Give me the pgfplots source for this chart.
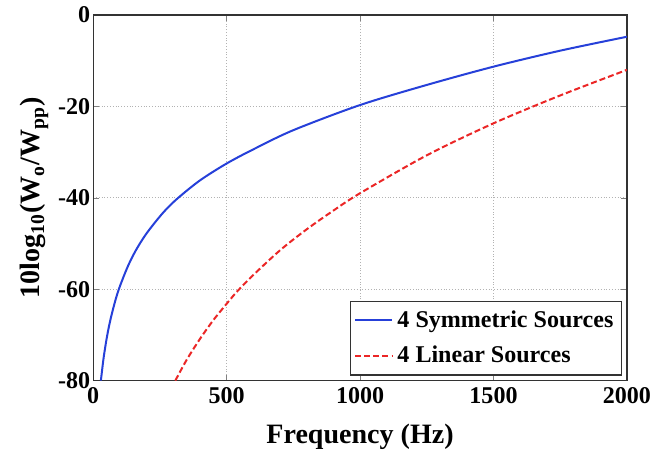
\documentclass[border=0pt]{standalone}
\usepackage{fontspec}
\setmainfont{Liberation Serif}
\usepackage{pgfplots}
\pgfplotsset{compat=1.18}
\definecolor{cblue}{rgb}{0.15,0.25,0.85}
\definecolor{cred}{rgb}{0.92,0.15,0.15}
\begin{document}
\begin{tikzpicture}
\begin{axis}[
  scale only axis,
  width=266.5pt, height=182.5pt,
  xmin=0, xmax=2000, ymin=-80, ymax=0,
  xtick={0,500,1000,1500,2000},
  ytick={-80,-60,-40,-20,0},
  tick align=inside,
  tick pos=both,
  major tick length=3pt,
  grid=major,
  major grid style={gray!60, densely dotted, line width=0.4pt},
  axis line style={black!80, line width=0.6pt},
  /pgf/number format/assume math mode=true,
  scaled x ticks=false,
  xticklabel style={/pgf/number format/1000 sep={}},
  yticklabel style={xshift=2pt},
  tick label style={font=\bfseries\fontsize{12}{13}\selectfont},
  xlabel={Frequency (Hz)},
  ylabel={10log\textsubscript{10}(W\textsubscript{o}/W\textsubscript{pp})},
  label style={font=\bfseries\fontsize{14}{15}\selectfont},
  xlabel style={yshift=-3pt},
  ylabel style={yshift=-2pt},
  legend style={font=\bfseries\fontsize{12}{13}\selectfont, draw=black!80, line width=0.6pt, inner xsep=2pt, inner ysep=2.5pt, row sep=4pt, at={(axis description cs:1,0)}, anchor=south east, xshift=-2.5pt, yshift=2.5pt},
  legend image code/.code={\draw[#1] (0cm,0cm) -- (0.65cm,0cm);},
  legend cell align=left,
]
\addplot[cblue, line width=1pt, smooth] coordinates {
(29,-80) (35,-77) (40,-74.7) (50,-71) (60,-67.95) (70,-65.4) (85,-62.1) (100,-59.4) (130,-55) (160,-51.5) (200,-47.8) (260,-43.4) (313,-40.3) (400,-36.2) (500,-32.5) (600,-29.4) (750,-25.2) (1000,-19.7) (1250,-15.3) (1500,-11.3) (1750,-7.8) (2000,-4.75)
};
\addlegendentry{4 Symmetric Sources}
\addplot[cred, line width=1pt, dash pattern=on 3pt off 1.5pt, smooth] coordinates {
(308,-80) (350,-75.5) (400,-70.9) (450,-66.8) (500,-63.2) (541,-60.4) (600,-56.9) (700,-51.5) (800,-46.9) (900,-42.8) (1000,-39) (1250,-30.7) (1500,-23.7) (1750,-17.6) (2000,-12)
};
\addlegendentry{4 Linear Sources}
\end{axis}
\pgfresetboundingbox
\path (current axis.south west) ++(-46.5pt,-37pt) coordinate (bbA);
\path (current axis.north east) ++(11.5pt,7.5pt) coordinate (bbB);
\useasboundingbox (bbA) rectangle (bbB);
\end{tikzpicture}
\end{document}
